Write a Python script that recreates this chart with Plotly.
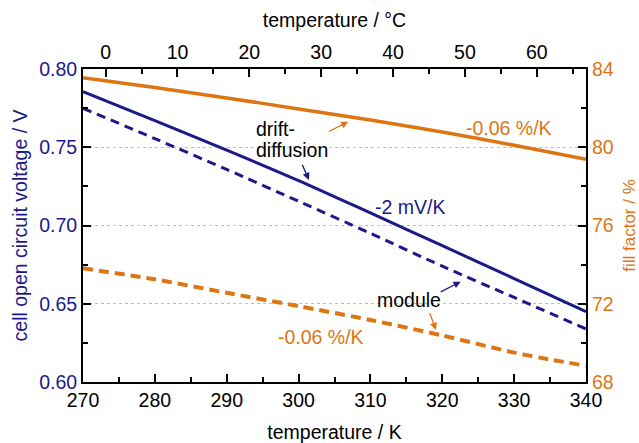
import plotly.graph_objects as go

# ---- data ----
temperature_K = [270, 280, 290, 300, 310, 320, 330, 340]
voc_cell = [0.7855, 0.7670, 0.7482, 0.7287, 0.7080, 0.6871, 0.6661, 0.6449]
voc_module = [0.7749, 0.7555, 0.7358, 0.7155, 0.6950, 0.6740, 0.6540, 0.6339]
ff_cell = [83.56, 83.05, 82.52, 81.96, 81.39, 80.78, 80.10, 79.38]
ff_module_T = [270, 280, 290, 300, 310, 320, 330, 335, 340]
ff_module = [73.81, 73.25, 72.56, 71.88, 71.17, 70.38, 69.50, 69.15, 68.83]

NAVY = "#1a1a88"
ORANGE = "#dd7512"
FONT = "Liberation Sans, Arial, Helvetica, sans-serif"
FS = 19.5

fig = go.Figure()
fig.add_trace(go.Scatter(x=temperature_K, y=voc_cell, mode="lines",
                         line=dict(color=NAVY, width=3, shape="spline", smoothing=0.8),
                         yaxis="y", showlegend=False))
fig.add_trace(go.Scatter(x=temperature_K, y=voc_module, mode="lines",
                         line=dict(color=NAVY, width=3, dash="9px,6px", shape="spline", smoothing=0.8),
                         yaxis="y", showlegend=False))
fig.add_trace(go.Scatter(x=temperature_K, y=ff_cell, mode="lines",
                         line=dict(color=ORANGE, width=3.5, shape="spline", smoothing=0.8),
                         yaxis="y2", showlegend=False))
fig.add_trace(go.Scatter(x=ff_module_T, y=ff_module, mode="lines",
                         line=dict(color=ORANGE, width=4, dash="10px,6px", shape="spline", smoothing=0.6),
                         yaxis="y2", showlegend=False))
# invisible trace to activate top axis
fig.add_trace(go.Scatter(x=[270 - 273.15, 340 - 273.15], y=[None, None], xaxis="x2", yaxis="y",
                         mode="lines", showlegend=False, hoverinfo="skip"))

tick_common = dict(ticks="inside", ticklen=8, tickwidth=1.5, tickcolor="black",
                   showline=True, linewidth=2, linecolor="black", zeroline=False,
                   automargin=False)

fig.update_layout(
    width=639, height=443,
    margin=dict(l=83, r=53, t=69, b=61),
    paper_bgcolor="white", plot_bgcolor="white",
    font=dict(family=FONT, size=FS, color="black"),
    xaxis=dict(range=[270, 340], dtick=10, showgrid=False,
               minor=dict(dtick=5, ticks="inside", ticklen=5, tickwidth=1.5, tickcolor="black"),
               title=dict(text="temperature / K", standoff=16, font=dict(size=FS)),
               tickfont=dict(size=FS, color="black"), **tick_common),
    xaxis2=dict(range=[270 - 273.15, 340 - 273.15], dtick=10, overlaying="x", side="top",
                showgrid=False, anchor="y",
                minor=dict(dtick=5, ticks="inside", ticklen=5, tickwidth=1.5, tickcolor="black"),
                title=dict(text="temperature / °C", standoff=8, font=dict(size=FS)),
                tickfont=dict(size=FS, color="black"), **tick_common),
    yaxis=dict(range=[0.60, 0.80], dtick=0.05, tickformat=".2f",
               showgrid=True, gridcolor="#c0c0c0", griddash="dot", gridwidth=1,
               minor=dict(dtick=0.025, ticks="inside", ticklen=5, tickwidth=1.5, tickcolor="black",
                          showgrid=False),
               title=dict(text="cell open circuit voltage / V", standoff=6,
                          font=dict(size=FS, color=NAVY)),
               tickfont=dict(size=FS, color=NAVY), **tick_common),
    yaxis2=dict(range=[68, 84], dtick=4, overlaying="y", side="right", showgrid=False,
                anchor="x",
                minor=dict(dtick=2, ticks="inside", ticklen=5, tickwidth=1.5, tickcolor="black"),
                title=dict(text="fill factor / %", standoff=11,
                           font=dict(size=17, color=ORANGE)),
                tickfont=dict(size=FS, color=ORANGE), **tick_common),
)

# ---- text annotations ----
texts = [
    dict(x=294.2, y=0.7617, text="drift-", color="black"),
    dict(x=294.2, y=0.7482, text="diffusion", color="black"),
    dict(x=310.8, y=0.7116, text="-2 mV/K", color=NAVY),
    dict(x=323.5, y=0.7621, text="-0.06 %/K", color=ORANGE),
    dict(x=311.1, y=0.6524, text="module", color="black"),
    dict(x=297.3, y=0.6289, text="-0.06 %/K", color=ORANGE),
]
for t in texts:
    fig.add_annotation(x=t["x"], y=t["y"], xref="x", yref="y", text=t["text"],
                       showarrow=False, xanchor="left", yanchor="middle", align="left",
                       xshift=-3, font=dict(family=FONT, size=FS, color=t["color"]))

# ---- arrows (tail -> head) ----
arrows = [
    ((300.43, 0.7397), (301.45, 0.7291), NAVY),
    ((304.0, 0.7596), (306.92, 0.7663), ORANGE),
    ((319.58, 0.6571), (322.56, 0.6641), NAVY),
    ((318.19, 0.6449), (319.12, 0.6332), ORANGE),
]
for (tx, ty), (hx, hy), c in arrows:
    fig.add_annotation(x=hx, y=hy, ax=tx, ay=ty, xref="x", yref="y", axref="x", ayref="y",
                       text="", showarrow=True, arrowhead=2, arrowsize=1.1, arrowwidth=1.3,
                       arrowcolor=c, standoff=0, startstandoff=0)

fig.write_html("out.html", config={"displayModeBar": False},
               post_script="document.body.style.margin='0';document.body.style.overflow='hidden';")
